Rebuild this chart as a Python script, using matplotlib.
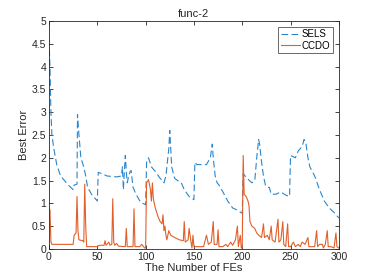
import matplotlib
matplotlib.use("Agg")
import matplotlib.pyplot as plt

# SELS best error (key points)
sels_x = [0, 1, 2, 3, 5, 8, 12, 16, 20, 25, 26, 29, 29.5, 31, 33, 36, 38, 40, 44, 50,
          51, 55, 60, 70, 75, 76, 77, 78, 79, 80, 81, 82, 84, 85, 87, 90, 95, 100,
          101, 103, 106, 110, 115, 119, 121, 124, 125, 127, 130, 133, 137, 140, 145, 150,
          151, 153, 163, 167, 169, 170, 172, 174, 176, 180, 185, 190, 195, 200,
          201, 205, 210, 213, 215, 217, 218, 220, 222, 224, 226, 228, 230, 235, 240, 245, 249,
          250, 255, 258, 262, 264, 266, 268, 270, 275, 280, 285, 290, 295, 300]
sels_y = [4.6, 4.0, 3.0, 2.5, 2.2, 1.85, 1.6, 1.5, 1.4, 1.3, 1.4, 1.42, 2.95, 2.5, 2.0, 1.8, 1.6, 1.35, 1.2, 1.05,
          1.68, 1.65, 1.6, 1.58, 1.6, 1.8, 1.3, 1.7, 2.05, 1.7, 1.45, 1.55, 1.7, 1.72, 1.35, 1.2, 1.02, 0.97,
          1.9, 2.0, 1.8, 1.7, 1.55, 1.45, 1.6, 2.2, 2.6, 1.8, 1.55, 1.5, 1.45, 1.3, 1.15, 1.08,
          1.9, 1.85, 1.85, 2.0, 2.3, 2.0, 1.6, 1.45, 1.4, 1.25, 1.05, 0.9, 0.85, 0.78,
          1.65, 1.55, 1.45, 1.5, 2.0, 2.4, 2.3, 1.9, 1.6, 1.4, 1.35, 1.35, 1.2, 1.2, 1.25, 1.18, 1.15,
          2.05, 2.0, 2.15, 2.25, 2.4, 2.3, 2.0, 1.8, 1.6, 1.3, 1.05, 0.9, 0.8, 0.68]

# CCDO best error
ccdo_x = [0, 1, 2, 3, 25, 26, 28, 29, 30, 31, 35, 36, 37, 38, 39, 50, 52, 57, 58, 59,
          62, 63, 65, 66, 67, 68, 70, 72, 79, 80, 81, 87, 88, 89, 94, 96, 99, 100,
          101, 103, 105, 106, 107, 108, 110, 113, 115, 117, 118, 119, 120, 121, 122, 124, 126,
          130, 135, 139, 140, 141, 144, 145, 147, 148, 149, 150, 155, 160, 163, 165, 168,
          170, 171, 174, 175, 176, 180, 183, 185, 188, 190, 193, 195, 196, 198, 199, 200,
          201, 202, 204, 206, 207, 208, 210, 213, 215, 217, 220, 222, 223, 226, 228, 230,
          231, 234, 237, 238, 240, 242, 243, 245, 247, 248, 250, 253, 255, 258, 260, 262,
          265, 268, 269, 272, 275, 277, 278, 280, 283, 284, 286, 288, 289, 292, 295, 297, 298, 300]
ccdo_y = [0.9, 0.85, 0.15, 0.1, 0.1, 0.3, 0.35, 1.15, 0.4, 0.2, 0.18, 0.15, 1.42, 0.5, 0.05, 0.05, 0.08, 0.08, 0.18, 0.08,
          0.15, 0.08, 0.1, 1.1, 0.15, 0.08, 0.12, 0.06, 0.05, 0.45, 0.05, 0.05, 0.88, 0.05, 0.05, 0.1, 0.02, 0.02,
          1.45, 1.52, 1.3, 1.05, 1.45, 1.1, 0.9, 0.7, 0.6, 0.55, 0.75, 0.4, 0.5, 0.3, 0.2, 0.4, 0.3,
          0.25, 0.2, 0.18, 0.6, 0.15, 0.2, 0.45, 0.15, 0.02, 0.3, 0.05, 0.05, 0.05, 0.3, 0.1, 0.15,
          0.6, 0.1, 0.1, 0.42, 0.05, 0.05, 0.1, 0.05, 0.15, 0.08, 0.2, 0.5, 0.05, 0.3, 0.02, 0.02,
          2.05, 1.2, 1.15, 1.05, 0.95, 0.6, 0.5, 0.45, 0.35, 0.3, 0.25, 0.55, 0.25, 0.3, 0.2, 0.5,
          0.2, 0.15, 0.65, 0.15, 0.2, 0.6, 0.1, 0.05, 0.55, 0.05, 0.05, 0.15, 0.05, 0.1, 0.05, 0.15,
          0.1, 0.25, 0.05, 0.05, 0.05, 0.4, 0.05, 0.1, 0.1, 0.02, 0.1, 0.4, 0.05, 0.05, 0.02, 0.35, 0.05, 0.02]

plt.rcParams['font.family'] = ['Liberation Sans', 'DejaVu Sans']

fig = plt.figure(figsize=(3.74, 2.8), dpi=100)
ax = fig.add_axes([0.131, 0.111, 0.775, 0.814])

ax.plot(sels_x, sels_y, '--', color='#2a86cc', lw=0.8, dashes=(6, 3), label='SELS')
ax.plot(ccdo_x, ccdo_y, '-', color='#e0602a', lw=0.8, label='CCDO')

ax.set_xlim(0, 300)
ax.set_ylim(0, 5)
ax.set_xticks(range(0, 301, 50))
ax.set_yticks([0, 0.5, 1, 1.5, 2, 2.5, 3, 3.5, 4, 4.5, 5])
ax.set_yticklabels(['0', '0.5', '1', '1.5', '2', '2.5', '3', '3.5', '4', '4.5', '5'])
ax.tick_params(direction='in', length=3, width=0.6, labelsize=7.5, colors='#262626',
               top=True, right=True, pad=2)
for s in ax.spines.values():
    s.set_linewidth(0.6)
    s.set_color('#262626')

ax.set_title('func-2', fontsize=8, color='#262626', pad=3)
ax.set_xlabel('The Number of FEs', fontsize=8, color='#262626', labelpad=1)
ax.set_ylabel('Best Error', fontsize=8, color='#262626', labelpad=2)

leg = ax.legend(loc='upper right', fontsize=7, frameon=True, fancybox=False,
                edgecolor='#262626', borderpad=0.25, handlelength=2.0,
                handletextpad=0.2, labelspacing=0.15, borderaxespad=0.6)
leg.get_frame().set_linewidth(0.6)

plt.savefig('out.png', dpi=100)
